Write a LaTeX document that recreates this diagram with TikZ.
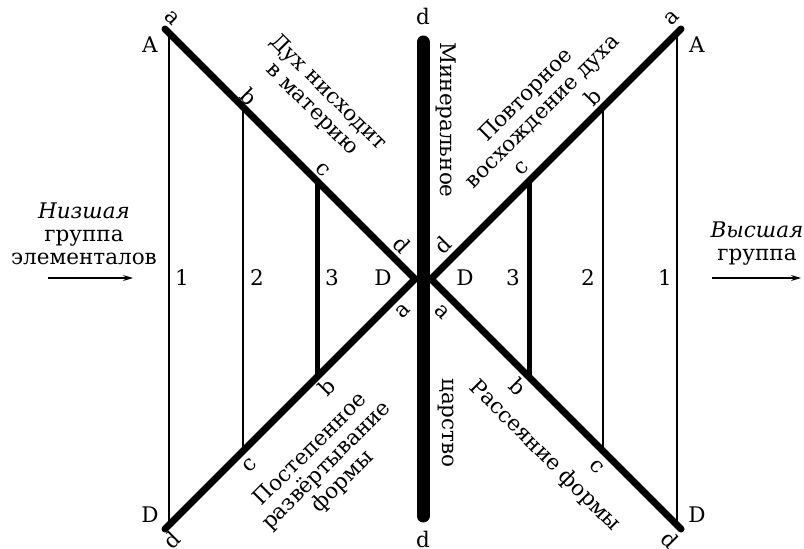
\documentclass[tikz,border=0pt]{standalone}
\usepackage{fontspec}
\setmainfont{DejaVu Serif}
\usetikzlibrary{arrows.meta}
\begin{document}
\begin{tikzpicture}[x=1pt,y=-1pt,
  lbl/.style={font=\fontsize{21.5}{23}\selectfont, inner sep=0pt},
  txt/.style={font=\fontsize{21.5}{23}\selectfont, inner sep=0pt, align=center},
  diag/.style={line width=7pt, line cap=round, line join=miter},
  thinv/.style={line width=1.5pt},
  midv/.style={line width=2.8pt},
  thickv/.style={line width=5pt},
  bar/.style={line width=13pt, line cap=round},
  arr/.style={line width=1.2pt, -{Stealth[length=10pt,width=6pt]}}]
\useasboundingbox (0,0) rectangle (804,549);
% geometry
\coordinate (TL) at (165,29);
\coordinate (LV) at (415,279);
\coordinate (BL) at (165,529);
\coordinate (TR) at (681,29);
\coordinate (RV) at (431,279);
\coordinate (BR) at (681,529);
\coordinate (BT) at (423,42);
\coordinate (BB) at (423,516);
\coordinate (L1t) at (169,33);  \coordinate (L1b) at (169,525);
\coordinate (L2t) at (243,107); \coordinate (L2b) at (243,451);
\coordinate (L3t) at (317,181); \coordinate (L3b) at (317,377);
\coordinate (R1t) at (677,33);  \coordinate (R1b) at (677,525);
\coordinate (R2t) at (603,107); \coordinate (R2b) at (603,451);
\coordinate (R3t) at (529,181); \coordinate (R3b) at (529,377);
% verticals
\draw[thinv] (L1t) -- (L1b);
\draw[midv] (L2t) -- (L2b);
\draw[thickv] (L3t) -- (L3b);
\draw[thinv] (R1t) -- (R1b);
\draw[midv] (R2t) -- (R2b);
\draw[thickv] (R3t) -- (R3b);
% diagonals
\draw[diag] (TL) -- (LV) -- (BL);
\draw[diag] (TR) -- (RV) -- (BR);
\draw[bar] (BT) -- (BB);
% corner letters
\node[lbl] (dtop) at (423,16) {d};
\node[lbl] (dbot) at (423,539) {d};
\node[lbl] (Al) at (150,45) {A};
\node[lbl] (Dl) at (150,515) {D};
\node[lbl] (Ar) at (697,45) {A};
\node[lbl] (Dr) at (697,515) {D};
% top-left diagonal
\node[lbl,rotate=-45] (tla) at (172,18) {a};
\node[lbl,rotate=-45] (tlb) at (249,97) {b};
\node[lbl,rotate=-45] (tlc) at (323,170) {c};
\node[lbl,rotate=-45] (tld) at (402,245) {d};
% bottom-left diagonal
\node[lbl,rotate=45] (bla) at (403,311) {a};
\node[lbl,rotate=45] (blb) at (327,387) {b};
\node[lbl,rotate=45] (blc) at (250,465) {c};
\node[lbl,rotate=45] (bld) at (172,540) {d};
% top-right diagonal
\node[lbl,rotate=45] (trd) at (443,245) {d};
\node[lbl,rotate=45] (trc) at (522,168) {c};
\node[lbl,rotate=45] (trb) at (593,97) {b};
\node[lbl,rotate=45] (tra) at (672,18) {a};
% bottom-right diagonal
\node[lbl,rotate=-45] (bra) at (442,312) {a};
\node[lbl,rotate=-45] (brb) at (518,387) {b};
\node[lbl,rotate=-45] (brc) at (597,467) {c};
\node[lbl,rotate=-45] (brd) at (670,540) {d};
% numbers
\node[lbl] (n1l) at (182,278) {1};
\node[lbl] (n2l) at (257,278) {2};
\node[lbl] (n3l) at (332,278) {3};
\node[lbl] (Dcl) at (383,278) {D};
\node[lbl] (Dcr) at (465,278) {D};
\node[lbl] (n3r) at (513,278) {3};
\node[lbl] (n2r) at (588,278) {2};
\node[lbl] (n1r) at (665,278) {1};
% phrases
\node[txt,rotate=-45] (p1) at (320,101) {Дух нисходит\\в материю};
\node[txt,rotate=45] (p2) at (535,104) {Повторное\\восхождение духа};
\node[txt,rotate=45] (p3) at (327,466) {Постепенное\\развёртывание\\формы};
\node[txt,rotate=-45] (p4) at (545,456) {Рассеяние формы};
\node[txt,rotate=-90] (p5) at (446,120) {Минеральное};
\node[txt,rotate=-90] (p6) at (446,423) {царство};
% side texts
\node[txt] (lowg) at (84,234) {\itshape Низшая\\группа\\элементалов};
\node[txt] (highg) at (757,244) {\itshape Высшая\\группа};
\coordinate (la1) at (48,278); \coordinate (la2) at (133,278);
\coordinate (ra1) at (712,278); \coordinate (ra2) at (801,278);
\draw[arr] (la1) -- (la2);
\draw[arr] (ra1) -- (ra2);
\end{tikzpicture}
\end{document}
